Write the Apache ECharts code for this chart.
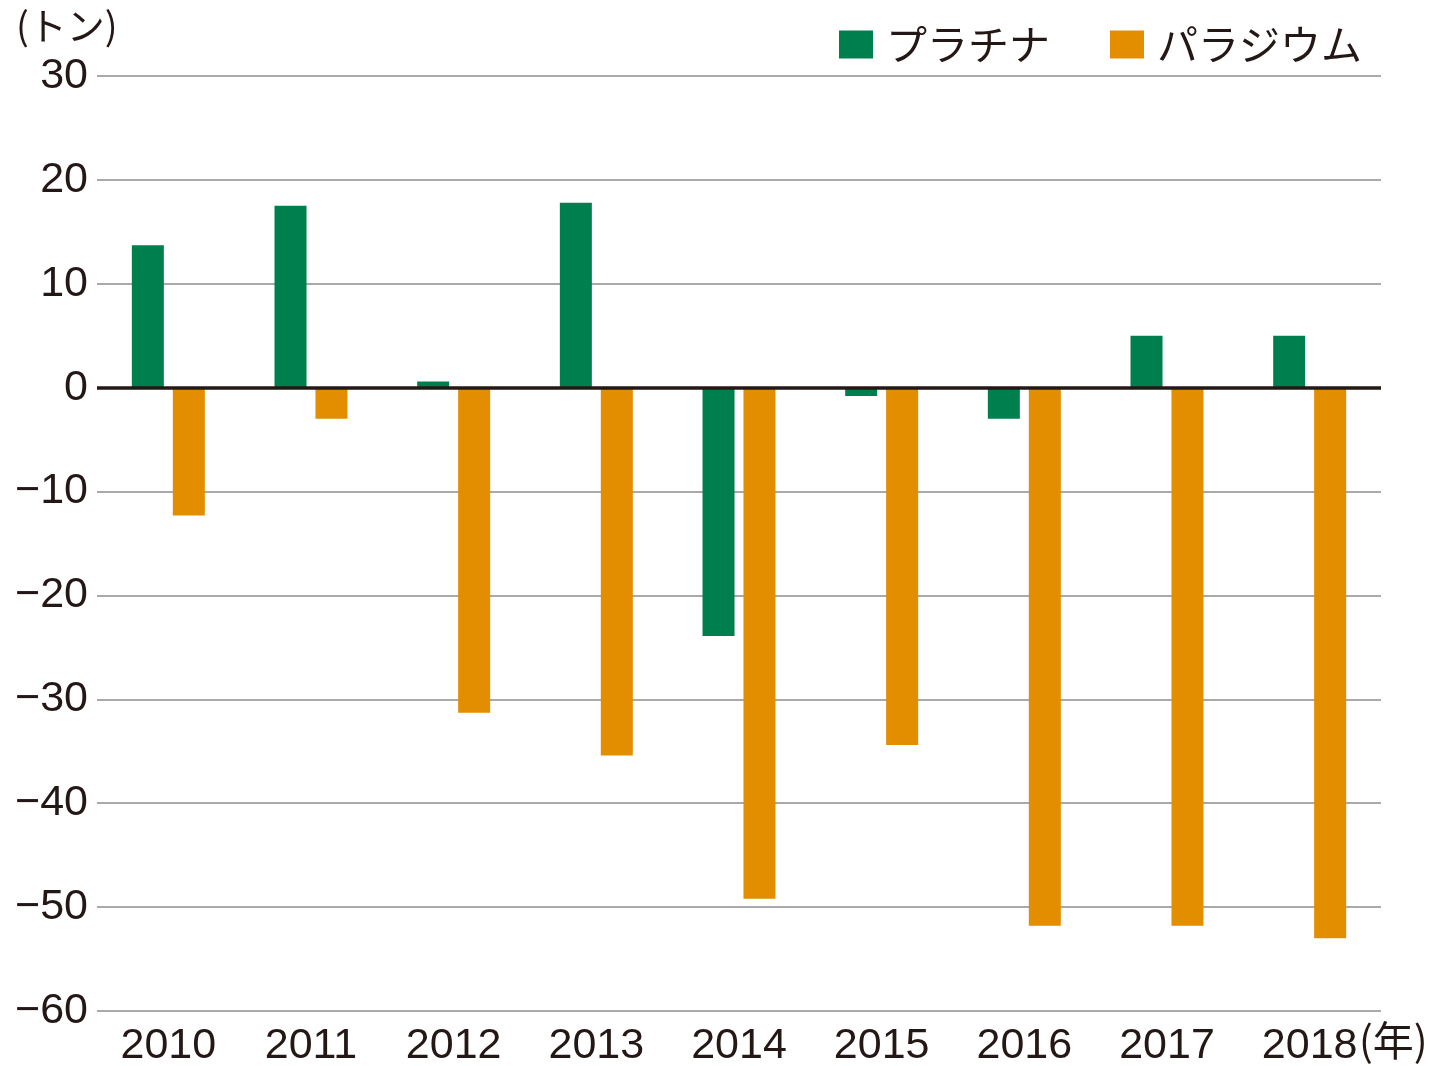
<!DOCTYPE html>
<html>
<head>
<meta charset="utf-8">
<script src="https://cdn.jsdelivr.net/npm/echarts@6/dist/echarts.min.js"></script>
<style>
  html, body { margin: 0; padding: 0; background: #fff; }
  #chart { width: 1434px; height: 1066px; }
</style>
</head>
<body>
<div id="chart"></div>
<script>
// 年
var years = ['2010', '2011', '2012', '2013', '2014', '2015', '2016', '2017', '2018']
// プラチナ (トン)
var platinum = [13.7, 17.5, 0.6, 17.8, -23.9, -0.8, -3.0, 5.0, 5.0]
// パラジウム (トン)
var palladium = [-12.3, -3.0, -31.3, -35.4, -49.2, -34.4, -51.8, -51.8, -53.0]
var seriesNames = ['プラチナ', 'パラジウム']
var yMin = -60
var yMax = 30
var yStep = 10

var textColor = '#231815'
var jpFont = '"Noto Sans CJK JP", sans-serif'
var numFont = '"Liberation Sans", Arial, sans-serif'

var chart = echarts.init(document.getElementById('chart'))

chart.setOption({
  animation: false,
  grid: {
    left: 97,
    right: 53,
    top: 76,
    bottom: 55,
    containLabel: false,
    outerBoundsMode: 'none'
  },
  legend: {
    data: seriesNames,
    left: 834,
    top: 19,
    itemWidth: 34,
    itemHeight: 28,
    itemGap: 60,
    icon: 'rect',
    textStyle: {
      color: textColor,
      fontSize: 41,
      fontFamily: jpFont,
      padding: [0, 0, 0, 8]
    }
  },
  graphic: [
    {
      type: 'text',
      left: 16,
      top: 7,
      style: { text: '(トン)', fill: textColor, font: '38px ' + jpFont }
    },
    {
      type: 'text',
      left: 1359,
      top: 1020,
      style: { text: '(年)', fill: textColor, font: '41px ' + jpFont }
    }
  ],
  xAxis: {
    type: 'category',
    data: years,
    axisLine: { show: false, onZero: false },
    axisTick: { show: false },
    axisLabel: {
      color: textColor,
      fontSize: 43,
      fontFamily: numFont,
      margin: 14
    }
  },
  yAxis: {
    type: 'value',
    min: yMin,
    max: yMax,
    interval: yStep,
    axisLine: { show: false },
    axisTick: { show: false },
    splitLine: { lineStyle: { color: '#8c8c8c', width: 1.5 } },
    axisLabel: {
      color: textColor,
      fontSize: 43,
      fontFamily: numFont,
      margin: 9,
      formatter: function(v) {
        return String(v).replace('-', '\u2212')
      }
    }
  },
  series: [
    {
      name: seriesNames[0],
      type: 'bar',
      data: platinum,
      barWidth: 32,
      barGap: '28%',
      itemStyle: { color: '#007f4e' },
      markLine: {
        silent: true,
        symbol: 'none',
        label: { show: false },
        lineStyle: { color: textColor, width: 3.5, type: 'solid' },
        data: [{ yAxis: 0 }],
        z: 10
      }
    },
    {
      name: seriesNames[1],
      type: 'bar',
      data: palladium,
      barWidth: 32,
      barGap: '28%',
      itemStyle: { color: '#e38d00' }
    }
  ]
})
</script>
</body>
</html>
